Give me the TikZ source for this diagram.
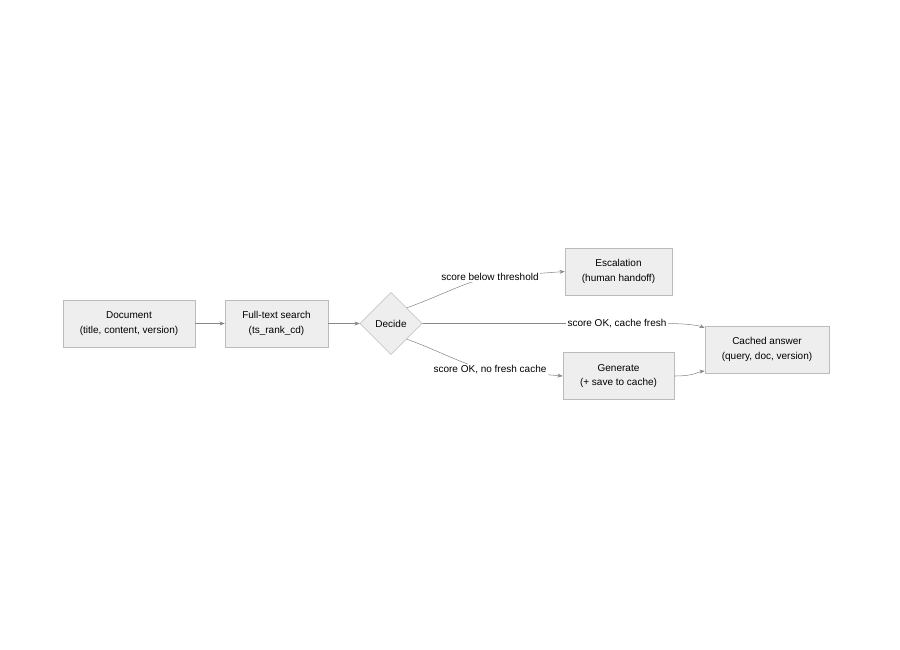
\documentclass[tikz,border=0pt]{standalone}
\usepackage{fontspec}
\setmainfont{Liberation Sans}
\usetikzlibrary{shapes.geometric, arrows.meta}
\definecolor{boxfill}{HTML}{EEEEEE}
\definecolor{boxline}{HTML}{BBBBBB}
\definecolor{edgeline}{HTML}{888888}
\tikzset{
  box/.style={draw=boxline, fill=boxfill, minimum height=35.25pt, align=center, inner sep=0pt},
  decision/.style={draw=boxline, fill=boxfill, diamond, minimum width=46.5pt, minimum height=46.5pt, inner sep=0pt},
  edge/.style={draw=edgeline, -{Stealth[length=4pt,width=3pt]}},
  lbl/.style={fill=white, inner sep=1pt}
}
\begin{document}
\begin{tikzpicture}[x=0.75pt, y=-0.75pt, font=\fontsize{7.5}{11}\selectfont]
  \useasboundingbox (0,0) rectangle (900,650);
  \node[box, minimum width=99pt] (doc) at (129,323.5) {Document\\(title, content, version)};
  \node[box, minimum width=77.25pt] (fts) at (276.5,323.5) {Full-text search\\(ts\_rank\_cd)};
  \node[decision] (dec) at (391,323.5) {Decide};
  \node[box, minimum width=80.25pt] (esc) at (618.5,271.5) {Escalation\\(human handoff)};
  \node[box, minimum width=83.25pt] (gen) at (618.5,376) {Generate\\(+ save to cache)};
  \node[box, minimum width=93pt] (ans) at (767,349.5) {Cached answer\\(query, doc, version)};
  \coordinate (up) at (490,277);
  \coordinate (dn) at (490,370);

  \draw[edge] (doc) -- (fts);
  \draw[edge] (fts) -- (dec);
  \draw[edge] (dec.north east) .. controls (440,296) and (465,282) .. (up) -- (esc.west)
    node[lbl, pos=0] {score below threshold};
  \draw[edge] (dec.east) -- (665,323.5) node[lbl, midway, xshift=55pt] {score OK, cache fresh}
    .. controls (690,323.5) and (700,326) .. (ans.west |- 0,328);
  \draw[edge] (dec.south east) .. controls (440,351) and (465,366) .. (dn) -- (gen.west)
    node[lbl, pos=0] {score OK, no fresh cache};
  \draw[edge] (gen.east) .. controls (695,376) and (697,372) .. (ans.west |- 0,371);
\end{tikzpicture}
\end{document}
